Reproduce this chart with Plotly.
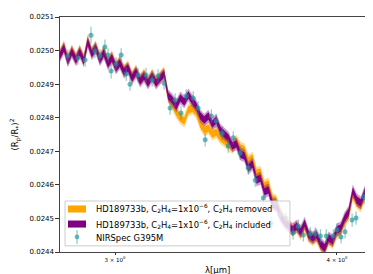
import plotly.graph_objects as go

# Model wavelength grid (micron)
wavelength = [2.793, 2.808, 2.822, 2.837, 2.852, 2.866, 2.881, 2.896, 2.911, 2.926,
              2.942, 2.957, 2.973, 2.988, 3.004, 3.019, 3.035, 3.051, 3.067, 3.083,
              3.099, 3.115, 3.131, 3.148, 3.164, 3.181, 3.197, 3.214, 3.231, 3.248,
              3.265, 3.282, 3.299, 3.316, 3.333, 3.351, 3.368, 3.386, 3.403, 3.421,
              3.439, 3.457, 3.475, 3.493, 3.511, 3.529, 3.548, 3.566, 3.585, 3.604,
              3.622, 3.641, 3.660, 3.679, 3.699, 3.718, 3.737, 3.757, 3.776, 3.796,
              3.816, 3.836, 3.856, 3.876, 3.896, 3.916, 3.937, 3.957, 3.978, 3.999,
              4.019, 4.040, 4.061, 4.083, 4.104, 4.125, 4.147, 4.168, 4.190, 4.212]

# C2H4 included model (transit depth)
model_included = [0.024984, 0.025008, 0.024969, 0.024996, 0.024972, 0.024996, 0.024969, 0.025026, 0.024990, 0.025008,
                  0.024972, 0.024993, 0.024960, 0.024978, 0.024948, 0.024963, 0.024936, 0.024948, 0.024918, 0.024936,
                  0.024909, 0.024924, 0.024903, 0.024924, 0.024903, 0.024918, 0.024930, 0.024865, 0.024853, 0.024835,
                  0.024859, 0.024847, 0.024868, 0.024850, 0.024835, 0.024805, 0.024793, 0.024805, 0.024781, 0.024793,
                  0.024763, 0.024751, 0.024740, 0.024716, 0.024722, 0.024692, 0.024686, 0.024650, 0.024662, 0.024614,
                  0.024620, 0.024579, 0.024585, 0.024543, 0.024537, 0.024507, 0.024489, 0.024477, 0.024466, 0.024477,
                  0.024460, 0.024486, 0.024451, 0.024442, 0.024451, 0.024424, 0.024412, 0.024442, 0.024433, 0.024466,
                  0.024471, 0.024501, 0.024519, 0.024582, 0.024555, 0.024546, 0.024579, 0.024606, 0.024644, 0.024662]

# C2H4 removed model (transit depth)
model_removed = [0.024988, 0.025012, 0.024973, 0.025000, 0.024976, 0.025000, 0.024973, 0.025030, 0.024994, 0.025012,
                 0.024976, 0.024997, 0.024964, 0.024982, 0.024952, 0.024967, 0.024940, 0.024952, 0.024922, 0.024940,
                 0.024913, 0.024928, 0.024907, 0.024928, 0.024907, 0.024922, 0.024934, 0.024862, 0.024841, 0.024817,
                 0.024799, 0.024790, 0.024823, 0.024829, 0.024817, 0.024781, 0.024763, 0.024769, 0.024751, 0.024757,
                 0.024740, 0.024731, 0.024722, 0.024710, 0.024731, 0.024710, 0.024704, 0.024671, 0.024680, 0.024635,
                 0.024638, 0.024597, 0.024603, 0.024558, 0.024549, 0.024516, 0.024495, 0.024480, 0.024466, 0.024474,
                 0.024454, 0.024477, 0.024445, 0.024436, 0.024445, 0.024418, 0.024406, 0.024436, 0.024427, 0.024457,
                 0.024463, 0.024492, 0.024510, 0.024570, 0.024546, 0.024537, 0.024567, 0.024594, 0.024632, 0.024650]

# NIRSpec G395M data
obs_wavelength = [2.822, 2.859, 2.886, 2.908, 2.923, 2.942, 2.961, 2.973, 2.985, 3.004,
                  3.024, 3.044, 3.059, 3.091, 3.123, 3.148, 3.172, 3.197, 3.222, 3.243,
                  3.268, 3.290, 3.320, 3.341, 3.372, 3.399, 3.420, 3.447, 3.474, 3.497,
                  3.528, 3.565, 3.598, 3.636, 3.673, 3.693, 3.715, 3.744, 3.779, 3.804,
                  3.829, 3.864, 3.889, 3.915, 3.945, 3.981, 4.000, 4.021, 4.042, 4.079,
                  4.100, 4.143, 4.165, 4.187]
obs_depth = [0.024984, 0.024978, 0.024972, 0.025046, 0.024999, 0.024984, 0.025011, 0.024987, 0.024939, 0.024960,
             0.024987, 0.024930, 0.024900, 0.024927, 0.024927, 0.024912, 0.024924, 0.024903, 0.024829, 0.024853,
             0.024814, 0.024865, 0.024859, 0.024829, 0.024734, 0.024805, 0.024790, 0.024754, 0.024716, 0.024740,
             0.024695, 0.024650, 0.024614, 0.024561, 0.024486, 0.024546, 0.024510, 0.024501, 0.024457, 0.024477,
             0.024451, 0.024454, 0.024454, 0.024448, 0.024448, 0.024448, 0.024466, 0.024445, 0.024460, 0.024495,
             0.024501, 0.024564, 0.024600, 0.024674]
obs_error = [0.000020, 0.000020, 0.000020, 0.000025, 0.000022, 0.000020, 0.000022, 0.000020, 0.000022, 0.000020,
             0.000020, 0.000020, 0.000020, 0.000020, 0.000022, 0.000020, 0.000020, 0.000020, 0.000020, 0.000020,
             0.000020, 0.000020, 0.000020, 0.000020, 0.000020, 0.000020, 0.000020, 0.000020, 0.000020, 0.000020,
             0.000020, 0.000020, 0.000020, 0.000020, 0.000020, 0.000020, 0.000020, 0.000020, 0.000020, 0.000020,
             0.000020, 0.000020, 0.000020, 0.000020, 0.000020, 0.000020, 0.000020, 0.000020, 0.000020, 0.000020,
             0.000020, 0.000020, 0.000020, 0.000025]

y_ticks = [0.0244, 0.0245, 0.0246, 0.0247, 0.0248, 0.0249, 0.0250, 0.0251]
x_ticks = [3, 4]
x_ticktext = ["3 × 10<sup>0</sup>", "4 × 10<sup>0</sup>"]

label_removed = "HD189733b, C<sub>2</sub>H<sub>4</sub>=1x10<sup>−6</sup>, C<sub>2</sub>H<sub>4</sub> removed"
label_included = "HD189733b, C<sub>2</sub>H<sub>4</sub>=1x10<sup>−6</sup>, C<sub>2</sub>H<sub>4</sub> included"
label_data = "NIRSpec G395M"

ORANGE = "#FFA500"
PURPLE = "#800080"
TEAL = "rgba(30,150,150,0.65)"
TEAL_BAR = "rgba(30,150,150,0.5)"

OUTER = 1.9e-5
INNER = 1.1e-5


def band(x, y, w):
    xs = list(x) + list(x)[::-1]
    ys = [v + w for v in y] + [v - w for v in y][::-1]
    return xs, ys


fig = go.Figure()

for vals, color, rgba, name in [
    (model_removed, ORANGE, "rgba(255,165,0,0.4)", "removed"),
    (model_included, PURPLE, "rgba(128,0,128,0.4)", "included"),
]:
    xs, ys = band(wavelength, vals, OUTER)
    fig.add_trace(go.Scatter(x=xs, y=ys, fill="toself", fillcolor=rgba,
                             line=dict(width=0), mode="lines", showlegend=False,
                             hoverinfo="skip"))
    xs, ys = band(wavelength, vals, INNER)
    fig.add_trace(go.Scatter(x=xs, y=ys, fill="toself", fillcolor=color,
                             line=dict(width=0, color=color), mode="lines", name=name,
                             showlegend=False))

fig.add_trace(go.Scatter(
    x=obs_wavelength, y=obs_depth, mode="markers", name=label_data, showlegend=False,
    marker=dict(color=TEAL, size=5),
    error_y=dict(type="data", array=obs_error, color=TEAL_BAR, thickness=1.2, width=0),
))

# --- legend drawn in paper coordinates (matplotlib-style) ---
shapes = [
    dict(type="rect", xref="paper", yref="paper", x0=0.016, x1=0.730, y0=0.026, y1=0.217,
         line=dict(color="#cccccc", width=1), fillcolor="rgba(255,255,255,0.8)", layer="above"),
    dict(type="rect", xref="paper", yref="paper", x0=0.0254, x1=0.0825, y0=0.168, y1=0.198,
         line=dict(width=0), fillcolor=ORANGE, layer="above"),
    dict(type="rect", xref="paper", yref="paper", x0=0.0254, x1=0.0825, y0=0.104, y1=0.134,
         line=dict(width=0), fillcolor=PURPLE, layer="above"),
    dict(type="line", xref="paper", yref="paper", x0=0.054, x1=0.054, y0=0.034, y1=0.094,
         line=dict(color=TEAL_BAR, width=1.2), layer="above"),
    dict(type="circle", xref="paper", yref="paper", x0=0.054 - 0.0075, x1=0.054 + 0.0075,
         y0=0.064 - 0.010, y1=0.064 + 0.010, line=dict(width=0), fillcolor=TEAL, layer="above"),
]

legend_texts = [
    dict(text=label_removed, x=0.108, y=0.183),
    dict(text=label_included, x=0.108, y=0.119),
    dict(text=label_data, x=0.108, y=0.060),
]
annotations = [
    dict(text=t["text"], x=t["x"], y=t["y"], xref="paper", yref="paper", xanchor="left",
         yanchor="middle", showarrow=False, font=dict(size=8.4))
    for t in legend_texts
]
annotations += [
    dict(text="λ[μm]", x=0.5, y=-0.077, xref="paper", yref="paper",
         xanchor="center", yanchor="middle", showarrow=False, font=dict(size=8.5)),
    dict(text="(R<sub>p</sub>/R<sub>*</sub>)<sup>2</sup>", x=-0.143, y=0.5,
         xref="paper", yref="paper", textangle=-90, xanchor="center",
         yanchor="middle", showarrow=False, font=dict(size=8.5)),
]

fig.update_layout(
    width=373, height=274,
    margin=dict(l=52, r=6, t=9, b=30),
    paper_bgcolor="white", plot_bgcolor="white",
    font=dict(family="DejaVu Sans", color="black"),
    showlegend=False,
    xaxis=dict(type="log", range=[0.44617, 0.62345], tickvals=x_ticks, ticktext=x_ticktext,
               tickfont=dict(size=5.5), ticks="outside", ticklen=2, tickcolor="#333",
               showgrid=False, zeroline=False, showline=True, linecolor="#444",
               linewidth=1.2, mirror=True),
    yaxis=dict(range=[0.0244, 0.0251], tickvals=y_ticks, tickformat=".4f",
               tickfont=dict(size=7), ticks="outside", ticklen=3.5, tickcolor="#333",
               showgrid=False, zeroline=False, showline=True, linecolor="#444",
               linewidth=1.2, mirror=True),
    shapes=shapes,
    annotations=annotations,
)

fig.write_html("out.html")
